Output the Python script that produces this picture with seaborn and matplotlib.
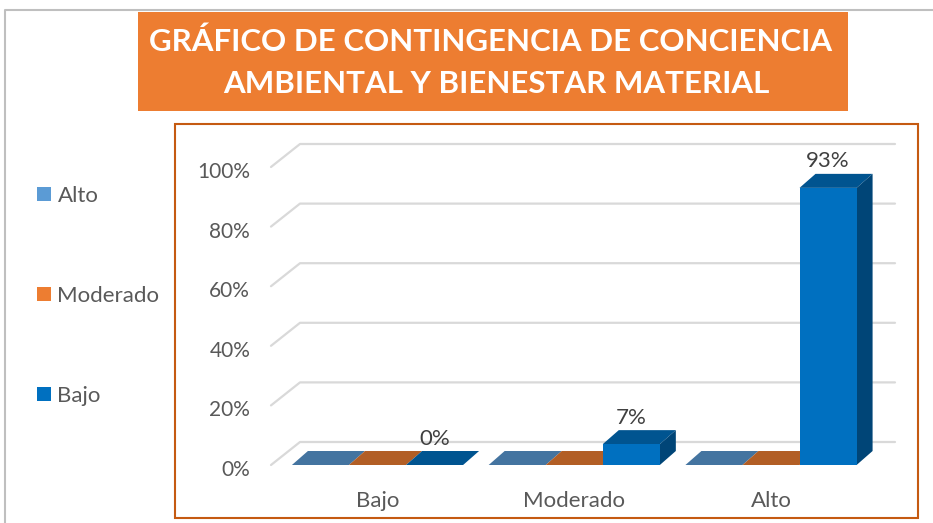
import numpy as np
import pandas as pd
import seaborn as sns
import matplotlib.pyplot as plt
from matplotlib.patches import Polygon, Rectangle
from matplotlib.lines import Line2D
from matplotlib.colors import to_rgb
from matplotlib.transforms import ScaledTranslation

categorias = ["Bajo", "Moderado", "Alto"]
series = ["Alto", "Moderado", "Bajo"]
alto = [0, 0, 0]
moderado = [0, 0, 0]
bajo = [0, 7, 93]
ticks_y = [0, 20, 40, 60, 80, 100]
etiquetas_y = ["0%", "20%", "40%", "60%", "80%", "100%"]
titulo_1 = "GRÁFICO DE CONTINGENCIA DE CONCIENCIA"
titulo_2 = "AMBIENTAL Y BIENESTAR MATERIAL"

colores = ["#5B9BD5", "#ED7D31", "#0070C0"]
gris = "#595959"

df = pd.DataFrame({
    "categoria": categorias * 3,
    "serie": [s for s in series for _ in categorias],
    "valor": alto + moderado + bajo,
})

sns.set_theme(style="white")
plt.rcParams['font.family'] = ['Lato', 'DejaVu Sans']

W, H = 933, 523
fig = plt.figure(figsize=(W / 100, H / 100), dpi=100)


def rect_px(x0, y0, x1, y1):
    # pixel box (top-left origin) -> figure fraction rect
    return [x0 / W, 1 - y1 / H, (x1 - x0) / W, (y1 - y0) / H]


ax = fig.add_axes(rect_px(271, 167, 866, 465))
sns.barplot(data=df, x="categoria", y="valor", hue="serie",
            order=categorias, hue_order=series, palette=colores,
            saturation=1, width=0.87, errorbar=None, linewidth=0, ax=ax)

# pixel -> data scale
ux = 196.75
uy = 298 / 100
ax.set_xlim(-(377.5 - 271) / ux, (866 - 377.5) / ux)
ax.set_ylim(0, 100)

# 3D-like gridlines: short diagonal at front, then along the back wall
gdx, gdy = 29 / ux, 23 / uy
x_left = ax.get_xlim()[0]
x_back = (895 - 377.5) / ux
for v in ticks_y:
    ax.plot([x_left, x_left + gdx, x_back], [v, v + gdy, v + gdy],
            color="#D9D9D9", lw=1.6, zorder=0.5, clip_on=False)

# bars: add top and side faces
bdx, bdy = 16 / ux, 14 / uy
bars = sorted(ax.patches, key=lambda p: p.get_x())
for i, p in enumerate(bars):
    x0, w, h = p.get_x(), p.get_width(), p.get_height()
    c = np.array(to_rgb(p.get_facecolor()))
    z = 2 + i
    top = Polygon([(x0, h), (x0 + w, h), (x0 + w + bdx, h + bdy), (x0 + bdx, h + bdy)],
                  closed=True, facecolor=c * 0.75, edgecolor="none", zorder=z, clip_on=False)
    ax.add_patch(top)
    if h > 0:
        side = Polygon([(x0 + w, 0), (x0 + w + bdx, bdy), (x0 + w + bdx, h + bdy), (x0 + w, h)],
                       closed=True, facecolor=c * 0.62, edgecolor="none", zorder=z, clip_on=False)
        ax.add_patch(side)
    p.set_zorder(z + 0.1)
    p.set_clip_on(False)

# data labels only for the "Bajo" series
for p in ax.containers[2]:
    ax.annotate(f"{p.get_height():.0f}%", (p.get_x() + p.get_width() / 2, p.get_height()),
                xytext=(0, 19), textcoords="offset points", ha="center", va="center",
                fontsize=16, color="#404040", zorder=20)

ax.set_yticks(ticks_y)
ax.set_yticklabels(etiquetas_y)
ax.set_xlabel("")
ax.set_ylabel("")
ax.tick_params(axis="y", length=0, pad=15, labelsize=15, labelcolor=gris)
ax.tick_params(axis="x", length=0, pad=19, labelsize=16, labelcolor=gris)
for lab in ax.get_yticklabels():
    lab.set_transform(lab.get_transform() + ScaledTranslation(0, -3 / 100, fig.dpi_scale_trans))
sns.despine(ax=ax, left=True, bottom=True)

handles, labels = ax.get_legend_handles_labels()
ax.get_legend().remove()
fig.legend(handles, labels, loc="center left", bbox_to_anchor=(37 / W, 1 - 296 / H),
           frameon=False, fontsize=16, labelspacing=3.6, handlelength=0.62,
           handleheight=0.62, handletextpad=0.3, borderpad=0, borderaxespad=0,
           labelcolor=gris)

# outer frame lines
fig.add_artist(Line2D([5 / W, 5 / W, 1], [0, 1 - 10 / H, 1 - 10 / H],
                      color="#BFBFBF", lw=1.5, transform=fig.transFigure))
# plot area border
fig.add_artist(Rectangle((175 / W, 1 - 518 / H), 743 / W, 394 / H, fill=False,
                         edgecolor="#C55A11", lw=1.5, transform=fig.transFigure))
# title box
fig.add_artist(Rectangle((138 / W, 1 - 111 / H), 710 / W, 99 / H,
                         facecolor="#ED7D31", edgecolor="none", transform=fig.transFigure))
fig.text(491 / W, 1 - 42 / H, titulo_1, ha="center", va="center", color="white",
         fontsize=22.5, fontweight="bold")
fig.text(496 / W, 1 - 84 / H, titulo_2, ha="center", va="center", color="white",
         fontsize=22.5, fontweight="bold")

fig.savefig("out.png", dpi=100)
